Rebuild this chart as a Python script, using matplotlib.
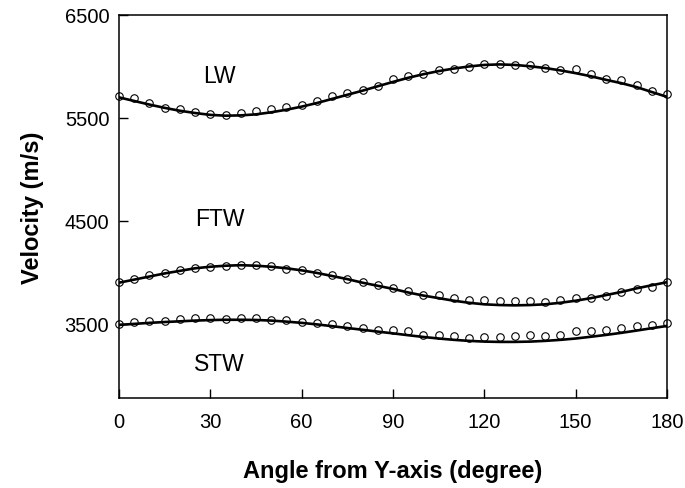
import numpy as np
import matplotlib
matplotlib.use("Agg")
import matplotlib.pyplot as plt

plt.rcParams["font.family"] = ["Liberation Sans", "DejaVu Sans"]

# Angles (degree) for measured points and fitted curves
angles = np.arange(0, 181, 5)

# Measured velocities (open circles)
lw_meas = [5711, 5694, 5643, 5600, 5587, 5555, 5542, 5529, 5549, 5571,
           5584, 5604, 5629, 5662, 5711, 5743, 5772, 5808, 5875, 5905,
           5927, 5969, 5976, 5995, 6024, 6024, 6018, 6015, 5988, 5969,
           5976, 5927, 5879, 5872, 5820, 5765, 5733]
ftw_meas = [3905, 3937, 3976, 3998, 4027, 4044, 4050, 4066, 4076, 4073,
            4060, 4034, 4021, 3992, 3976, 3937, 3911, 3879, 3847, 3817,
            3782, 3782, 3752, 3733, 3733, 3720, 3720, 3720, 3710, 3733,
            3750, 3752, 3775, 3808, 3840, 3856, 3905]
stw_meas = [3500, 3523, 3526, 3529, 3549, 3558, 3558, 3549, 3558, 3558,
            3542, 3539, 3519, 3510, 3500, 3477, 3464, 3438, 3438, 3429,
            3396, 3396, 3387, 3364, 3371, 3371, 3387, 3396, 3387, 3393,
            3429, 3435, 3442, 3458, 3484, 3494, 3510]

# Calculated velocities (solid lines)
lw_calc = [5700, 5665, 5630, 5598, 5570, 5548, 5530, 5522, 5525, 5535,
           5555, 5580, 5610, 5645, 5685, 5725, 5765, 5808, 5850, 5890,
           5925, 5955, 5980, 6000, 6015, 6020, 6015, 6002, 5985, 5962,
           5935, 5905, 5870, 5838, 5800, 5752, 5705]
ftw_calc = [3900, 3930, 3960, 3990, 4015, 4040, 4055, 4065, 4070, 4065,
            4055, 4040, 4020, 3995, 3965, 3935, 3900, 3870, 3840, 3805,
            3775, 3750, 3725, 3705, 3690, 3683, 3680, 3683, 3690, 3705,
            3725, 3750, 3780, 3810, 3845, 3875, 3905]
stw_calc = [3490, 3500, 3510, 3518, 3525, 3532, 3537, 3540, 3540, 3538,
            3532, 3522, 3510, 3495, 3478, 3460, 3443, 3425, 3408, 3390,
            3373, 3358, 3345, 3335, 3328, 3325, 3325, 3328, 3335, 3345,
            3358, 3375, 3393, 3413, 3435, 3458, 3480]

wave_labels = ["LW", "FTW", "STW"]
label_pos = [(33, 5908), (33, 4519), (33, 3112)]

fig = plt.figure(figsize=(6.85, 4.89), dpi=100)
ax = fig.add_axes([0.1737, 0.184, 0.80, 0.7833])

for calc, meas in [(lw_calc, lw_meas), (ftw_calc, ftw_meas), (stw_calc, stw_meas)]:
    ax.plot(angles, calc, "-", color="black", linewidth=1.9, zorder=2)
    ax.plot(angles, meas, "o", markersize=5.4, markerfacecolor="none",
            markeredgecolor="black", markeredgewidth=0.8, zorder=3,
            clip_on=False)

for lab, (x, y) in zip(wave_labels, label_pos):
    ax.text(x, y, lab, ha="center", va="center", fontsize=16.5)

ax.set_xlim(0, 180)
ax.set_ylim(2780, 6500)
ax.set_xticks([0, 30, 60, 90, 120, 150, 180])
ax.set_yticks([3500, 4500, 5500, 6500])
ax.tick_params(direction="in", length=6.5, width=1, labelsize=14.5)
ax.tick_params(axis="x", pad=10)
ax.tick_params(axis="y", pad=7)
for sp in ax.spines.values():
    sp.set_linewidth(1.1)

ax.set_xlabel("Angle from Y-axis (degree)", fontsize=17, fontweight="bold", labelpad=20)
ax.set_ylabel("Velocity (m/s)", fontsize=17, fontweight="bold", labelpad=15)

plt.savefig("out.png", dpi=100)
plt.close()
